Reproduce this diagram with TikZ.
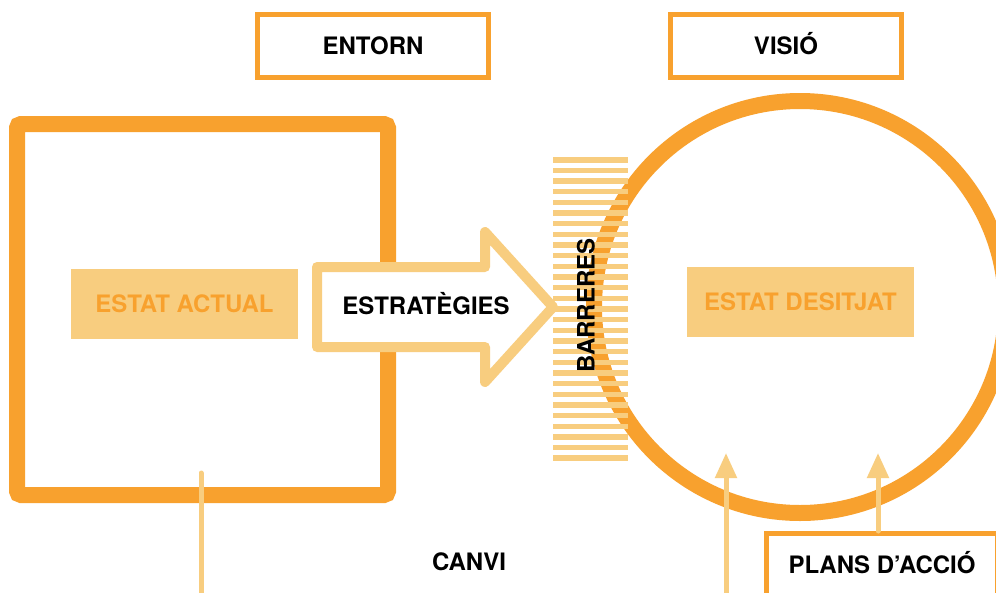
\documentclass[tikz,border=0pt]{standalone}
\usepackage{fontspec}
\setmainfont{TeX Gyre Heros}
\usetikzlibrary{arrows.meta}
\definecolor{canviorange}{HTML}{F8A12E}
\definecolor{canvisand}{HTML}{F8CD7F}

\begin{document}
\begin{tikzpicture}[x=1pt,y=-1pt,
  every node/.style={font=\fontsize{24}{28}\selectfont\bfseries,text height=17.2pt,text depth=0pt,inner sep=0pt},
  frame/.style={draw=canviorange,line width=5pt,minimum width=231pt,minimum height=63pt},
  state/.style={fill=canvisand,text=canviorange,minimum width=227pt,minimum height=70pt},
  up/.style={-{Triangle[width=21pt,length=25pt]},line width=5pt,draw=canvisand}
]
\fill[white,use as bounding box] (0,0) rectangle (996,592);
\clip (0,0) rectangle (996,592);
\node[draw=canviorange,line width=16pt,rounded corners=4pt,minimum size=371pt,text height=,text depth=] (actualframe) at (202.5,309.5) {};
\node[state] (actual) at (184.5,304) {ESTAT ACTUAL};
\draw[canvisand,line width=10pt,line join=round,fill=white]
  (317,267) -- (485,267) -- (485,232) -- (553,307) -- (485,382) -- (485,347) -- (317,347) -- cycle;
\node (estrategies) at (426,306) {ESTRATÈGIES};
\node[circle,draw=canviorange,line width=16pt,minimum size=412pt,text height=,text depth=] (visiocircle) at (800,307) {};
% barrier stripes over the circle
\foreach \i in {0,...,28}
  \fill[canvisand] (553,157+\i*10.66) rectangle ++(75,5.5);
\node[rotate=90] (barreres) at (586,305.5) {BARRERES};
\node[state] (desitjat) at (800.5,302) {ESTAT DESITJAT};
\node[frame] (entorn) at (373,46) {ENTORN};
\node[frame] (visio) at (786,46) {VISIÓ};
\node[frame] (plans) at (882,565) {PLANS D’ACCIÓ};
\node (canvi) at (469,562) {CANVI};
\coordinate (canvitop) at (201,473);
\coordinate (canvibase) at (201,600);
\coordinate (tipa) at (726,453);
\coordinate (basea) at (726,600);
\coordinate (tipb) at (878,453);
\draw[canvisand,line width=5pt,line cap=round] (canvitop) -- (canvibase);
\draw[up] (basea) -- (tipa);
\draw[up,line cap=round] (plans.north -| tipb) -- (tipb);
\end{tikzpicture}
\end{document}
